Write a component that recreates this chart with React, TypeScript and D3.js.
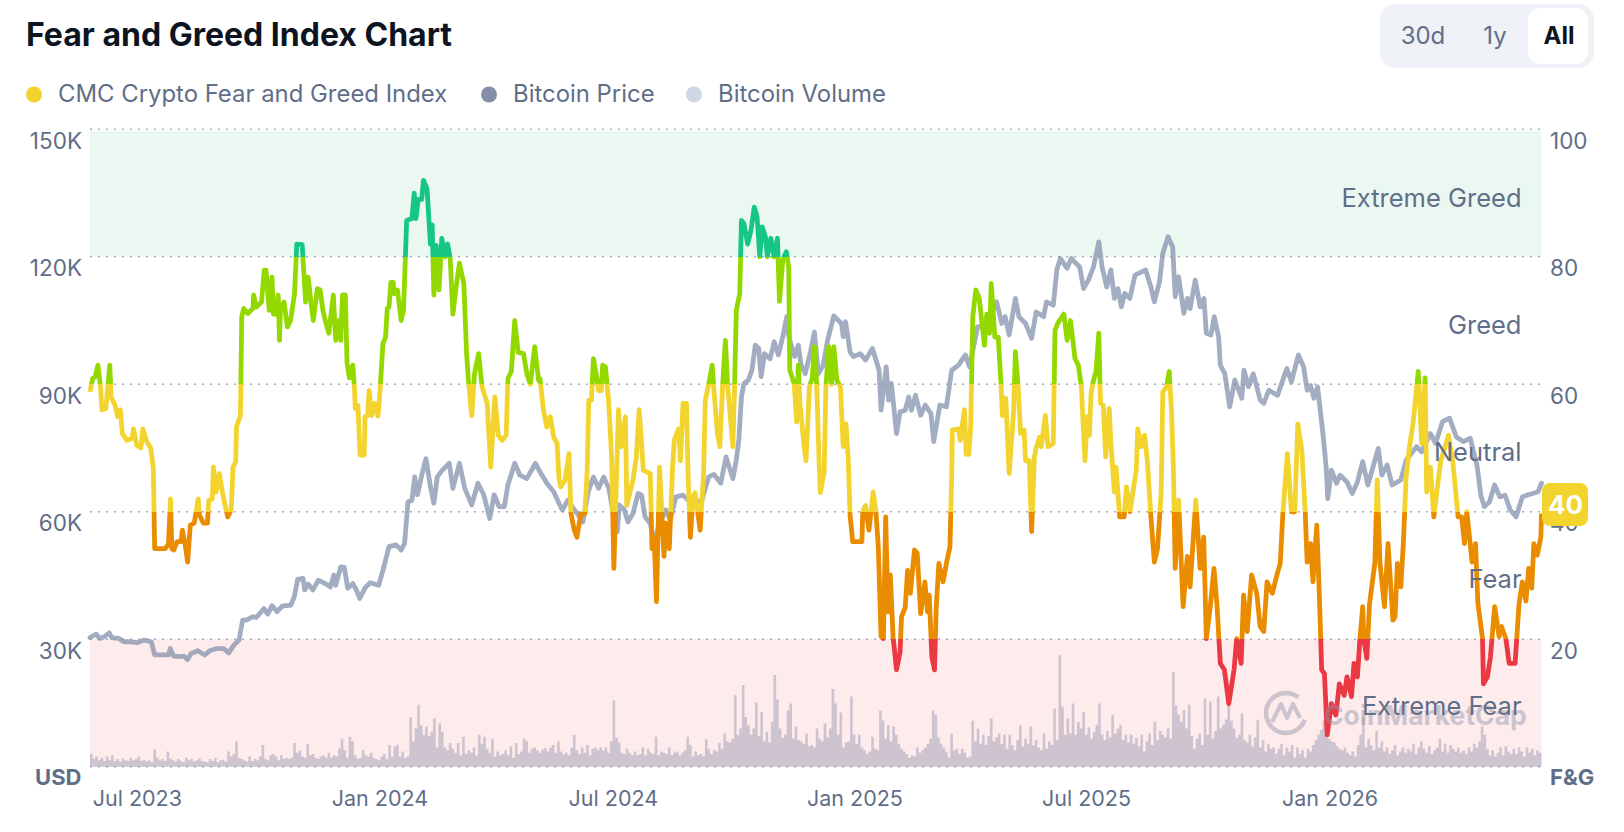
import React from "react";
import * as d3 from "d3";

// values, x is days from the first sample
const fgDays = [
  0, 2, 4, 6, 8, 9, 12, 15, 16, 19, 21, 23, 24.5, 28, 32, 33, 35.5, 38.6, 40, 43, 46, 48, 49, 53, 57, 59.5, 61, 62, 63.5, 66, 69, 70, 72, 74, 76, 79, 82, 83, 86, 89, 90, 92.7, 93.5, 95.5, 98, 100, 102.6, 104.4, 107, 108.4, 110.4,
  111, 114, 115, 116.5, 119.6, 123.5, 124, 126, 130, 132, 133.4, 135.8, 137.9, 139, 141, 142.6, 143.6, 144.4, 147, 149.6, 152, 155, 156.7, 160.8, 163.4, 165.3, 167.4, 169.2, 172.3, 174.4, 176.5, 178.3, 181, 184.4, 186.2, 188.8, 190, 191.4, 193.5, 194.8, 196.6, 199.2, 200.5, 201, 203, 204.7, 207.8, 208.4, 210.4, 211.5, 213.6, 215.7, 218.3, 220, 222, 224, 225.3, 226.6, 228, 229.8, 230.5, 233, 235.8, 237.6, 240, 244, 245.7, 247, 248.8, 251.4, 252.7, 255.4, 258, 259.3, 260.6, 262.4, 264.5, 266.6, 269.2, 271, 273, 275, 277.5, 280, 283.3, 285.4, 286.7, 289.3, 291.4, 294.5, 297.1, 301, 303.7, 306.8, 309.4, 312.3, 315.4, 316.7, 319.3, 321.9, 324.5, 328.5, 331, 333.7, 337, 340,
  341, 343.6, 346.2, 348.8, 351.4, 354, 355.4, 356.7, 360, 363, 364.5, 367, 369, 372, 375, 376.8, 378, 380, 381.5, 384, 385.4, 387.5, 388.5, 390.6, 393, 395.3, 397, 400.5, 402.4, 405.8, 406.8, 411.5, 414, 416.2, 418, 419.3, 424.6, 425.9, 427.5, 429.3, 431.6, 435, 436.3, 439, 441.5, 442.8, 446, 447.5, 449.4, 452, 453.3, 455, 457, 458.5, 462.4, 465, 466.3, 469, 471.5, 472.9, 475.5, 477.3, 479.4, 481.5, 483.3, 487.2, 488.5, 489.8, 492.4, 493.7, 495.6, 498.4, 500.8, 503.4, 505.5, 507.6, 509.4, 512, 513.3, 516, 518.5, 521, 522.5, 525, 527.7, 529.5, 530.3, 533.7, 535.5, 536.8, 538, 540.7, 542.6, 545.2, 547.3, 549, 550.7, 552.5, 553.5, 556.4, 557.7, 559.8, 562, 563.7, 566, 568.7, 570.8, 572.9, 574.7, 576, 578, 585, 585.6, 587.7, 590.3, 593.5, 595.6, 597.4, 599.5, 601.3, 603, 604.7, 606.5, 608.6, 611.2, 613.9, 615, 617.8, 619.6, 621.7, 624.8, 626.9, 629.5, 632.7, 634.7, 636, 638, 640, 641.3, 643.3, 646.5, 649, 651.7, 653, 653.5, 658.2, 659.5, 662.7, 664, 666, 667.4, 669, 671.3, 673.9, 677.8, 679.6, 681.7, 683, 685.7, 688.3, 690.4, 691.4, 694, 696.6, 700, 701.3, 703.4, 705.2, 707.9, 709, 711.8, 713.6, 715.7, 717, 719.6, 720.9, 724, 726, 730, 731.3, 734, 738, 740.5, 743, 746.5, 749,
  751.3, 754, 755.8, 757.4, 758.7, 760.5, 762.4, 764.5, 765.8, 767.9, 769.7, 772.4, 773.7, 776.3, 777.6, 780.3, 783.7, 785.5, 788.2, 790.8, 792.9, 794, 796.6, 799.2, 801.3, 804, 806.6, 809, 811.8, 813, 815.8, 817.9, 819.7, 821, 822.4, 825, 828.4, 831.6, 833.7, 838, 841.3, 844, 846, 848.7, 851.8, 854, 856.6, 859.7, 863, 867, 869, 872.4, 874.2, 877, 880.3, 884.2, 886.8, 889.5, 892, 896, 899.5, 902, 904, 907.4, 910.5, 913, 915.3, 918.4, 921, 922.4, 925, 926.8, 929.7, 931.6, 933.4, 935.5, 937.6, 940.8, 944.2, 946.8, 950.5, 952.6, 956, 957.9, 960.5, 962.4, 964.5, 965.3, 967.6, 969.7, 973.7, 975.5, 977.6, 981, 983.7, 987.4, 989, 990.8, 993.4, 995.3, 997.4, 1000, 1002.6, 1006.6, 1009.2, 1011.8, 1013, 1015.8, 1018.4, 1022.4, 1023.7, 1029.5, 1032.9, 1036.8, 1039.5, 1041.6, 1043.4, 1047.4, 1050, 1051.8, 1055.3, 1056, 1059, 1061.3, 1064.5, 1067.9, 1069.7, 1073, 1075.5, 1080, 1083, 1085.5, 1088.2, 1090.3, 1092.6, 1094.2, 1096.8, 1099.5, 1100,
];
const fgValues = [
  58.8, 60.9, 61.2, 63, 59.5, 56, 56.2, 63, 58, 56.7, 54.9, 56, 52.3, 51.2, 51.5, 53, 50.4, 50, 53, 51, 50, 46.8, 34.2, 34.2, 34.2, 35, 42, 34.2, 34, 35.3, 35.3, 37.1, 35, 32.1, 37.9, 38.2, 42, 39.5, 38.2, 38.2, 41.8, 42, 47, 43.1, 46, 43.4, 40.8, 39.2, 40.3, 47, 47.8,
  53.3, 55.1, 70.6, 71.9, 71.1, 71.9, 74, 72.1, 72.9, 77.9, 77.9, 71.6, 76.8, 71, 71, 74, 66.9, 72.1, 72.9, 69, 70, 74.2, 82, 81.9, 72.9, 76.8, 72.9, 70, 75, 74.8, 71.6, 70, 68, 74, 66.9, 70, 66.9, 74, 74, 63.3, 61, 63, 59, 56.2, 56.7, 48.9, 48.9, 54.9, 55.1, 59, 55.1, 57, 55, 59.6, 66.4, 67.4, 71.9, 72.1, 76, 76, 74.2, 74.8, 70, 71.6, 85.7, 86, 90, 86, 89, 89, 92, 90.7, 82, 85, 74, 81.8, 74.8, 82.9, 80, 82, 79.7, 71, 75.3, 79, 75.8, 64.8, 60.9, 55.1, 61.7, 64.8, 59.6, 57, 47, 58, 52, 51.2, 52, 60.9, 62, 70, 65, 64.8, 61.7, 60, 65.9, 60.6,
  60.9, 56, 53.3, 54.9, 51.7, 50.7, 45.2, 43.9, 45, 49.1, 39.7, 37.1, 36, 39.7, 39.7, 46.5, 57.5, 57.5, 64, 61.2, 59, 59, 63, 62.7, 57.5, 48.6, 31.1, 56, 50.2, 54.9, 41, 45, 48.6, 56, 50.7, 46.5, 46, 34.2, 36, 25.9, 47, 33, 38.2, 34.2, 47, 51.2, 53, 48, 57, 57, 45.5, 36, 42.3, 43, 37.1, 46, 57.5, 60.1, 63, 59, 52.3, 50.2, 59.6, 66.9, 59.6, 50.2, 60, 71.6, 74.2, 85.7, 85.2, 82, 84, 87.8, 86.3, 80, 84.7, 83, 80, 82.9, 80, 82.9, 73, 79.5, 80.8, 78.4, 62.2, 60.1, 54.1, 63, 57, 51.2, 48, 59.6, 60.9, 65.9, 60, 48, 43, 46.3, 59.6, 65.9, 60, 65.9, 60.6, 59.6, 50.2, 53.8, 48, 39.5, 35.3, 35.3, 40, 41, 37.1, 43.1, 40, 34.5, 20.4, 20.1, 39.2, 24.3, 30.1, 20.4, 15.2, 18, 23.5, 25, 30.8, 27.2, 34, 33.5, 24, 29, 24.3, 26.9, 17.2, 15.2, 25, 31.9, 29, 31.9, 34.5, 45.5, 52.8, 53, 51.2, 56, 49, 49, 53.3, 70.6, 74.8, 73.5, 66.1, 71, 68, 75.8, 67.4, 67.4, 60.1, 55.1, 57.8, 46, 56, 65.1, 59.6, 52.3, 52.8, 48, 48, 36.9, 48.6, 50, 51.7, 50.2, 55.1, 50.2, 50.7, 68.5, 69.8, 71, 66.9, 70, 64, 63,
  59.6, 48, 54.9, 52, 58.8, 60.6, 62, 68, 57, 56.7, 48.6, 56.2, 50.7, 43.1, 47, 39.2, 39.2, 43.9, 40, 43.7, 46.5, 53, 50.2, 52, 48, 39.2, 32.1, 34.2, 43.1, 58.8, 59.6, 62, 55.4, 47, 31.1, 41.8, 25.1, 33, 28.2, 41.8, 31.1, 36, 20.1, 24.6, 31.1, 25.6, 16.2, 15.2, 9.9, 15.2, 20.1, 16.2, 26.9, 21.2, 30.1, 27.2, 22, 21.2, 29, 27.2, 30.1, 31.9, 39.7, 49.1, 40, 40, 53.8, 49.6, 39.7, 32.1, 35, 29, 37.9, 27.2, 15.2, 14.6, 5, 9.9, 8.1, 13, 11.2, 14.1, 11, 16.2, 14.1, 20.1, 25.1, 20.1, 17, 25.6, 31.9, 45, 31.9, 25.1, 35, 23, 23.5, 31.9, 28.2, 35, 45.5, 50.2, 53.8, 62, 50.7, 61, 43.1, 47, 39.2, 46, 48, 52, 47.6, 39.2, 39.2, 35, 40, 32.1, 35, 25.6, 20.1, 13, 14.1, 17.2, 25.1, 20.4, 22, 20.1, 16.2, 16.2, 25.6, 29, 26, 31.1, 28, 35, 33.2, 36, 39.7,
];

const btcDays = [
  0, 4.7, 7.3, 11, 14.6, 16.4, 21.7, 25.6, 30.7, 36, 41, 46.5, 49, 54.3, 59.5, 60.8, 63.4, 68.7, 71.3, 73.9, 76.5, 81.7, 87, 90.9, 96, 101.3, 105.2, 109, 112.9, 115.7, 118.5, 123.5, 126, 131.8, 134.7, 137.9, 141.8, 145.7, 152.2, 154.8, 157.4, 161.4, 162.7, 165.3, 169, 173, 178.3, 182.2, 184.8, 186.2, 190, 192.7, 195.3, 199.2, 201.8, 204.4, 208.4, 212.3, 218.8, 222.7, 226.6, 231.9, 235.8, 238.4, 241, 244, 246.1, 248.2, 251.4, 254.6, 258, 260.6, 263.2, 267, 272.3, 275, 280, 284, 289.3, 294, 298.4, 302.9, 306.3, 310, 314, 316.7, 321.9, 325.8, 331, 337.6,
  341, 346.2, 351.4, 355.4, 358, 362, 373.6, 377.6, 381.5, 385.4, 389.3, 393.2, 397, 399.7, 401, 405, 407.6, 411.5, 415.4, 418, 420.6, 424.6, 428, 431, 436.3, 439.7, 444, 449.4, 453.3, 457.2, 463.7, 468.9, 472.9, 478, 482, 487.2, 489.8, 491.7, 493.7, 495.6, 499, 501.6, 504.2, 506.8, 508.6, 511.2, 515.4, 518.5, 521.7, 525, 528, 529.5, 534, 536.8, 538.9, 542, 546, 549, 552, 555.6, 559, 563.7, 569.5, 570.8, 572.6, 576, 578.6, 583.8, 587.7, 593, 598, 599.5, 603.4, 605.2, 607.3, 611.2, 613.9, 617.8, 620.4, 622.5, 625.6, 629.5, 633, 637.3, 639.4, 644, 649, 653, 658.2, 663.4, 666.6, 672.6, 680, 687, 691, 693.5, 696.6, 701.3, 704, 709, 713.6, 717, 722.7, 724.8, 730, 732.7, 735.3, 740.5, 743.6,
  750, 753, 756.6, 760.5, 764.5, 767, 770.5, 773.7, 776.3, 779, 781.6, 784.2, 788, 792, 800, 804, 806.6, 810.5, 813, 817, 820.5, 822.4, 825, 829, 831.6, 833.7, 837.6, 841.3, 844.2, 846, 849.5, 852, 855.3, 856.6, 860, 863.7, 867.6, 872.9, 874.5, 878, 881.6, 886.8, 889.5, 893.4, 900, 907, 910.5, 915.8, 919.7, 922.4, 925, 927.6, 930.3, 934.2, 936.8, 938, 940.8, 944.7, 947.4, 952.6, 956.6, 960.5, 964.5, 968.4, 976.3, 979, 983, 986.8, 993.4, 997.4, 1005.3, 1009.2, 1015.8, 1019.7, 1025, 1030.3, 1035.5, 1040.8, 1046, 1051.3, 1054, 1056.6, 1060.5, 1064.5, 1068.4, 1072.4, 1076.3, 1080.8, 1085.5, 1089, 1093.4, 1097.4, 1100,
];
const btcValues = [
  30.4, 31.2, 30.2, 30.6, 31.5, 30.4, 30.2, 29.4, 29.4, 29.2, 29.8, 29.4, 26.3, 26.3, 26.3, 27.8, 26, 25.9, 26, 25.2, 26.6, 27.3, 26.3, 27.3, 27.8, 27.8, 26.8, 28.6, 29.8, 34.5, 34.5, 35.3, 35.1, 37.2, 35.9, 37.9, 36.5, 37.8, 38, 40, 44.1, 44.3, 41.6, 43, 41.6, 43.9, 43.1, 42.3, 45.1, 42.7, 47, 46.9, 42, 43.1, 41.6, 39.6, 42, 43.3, 42.7, 47, 51.8, 52.2, 51, 52.5, 62.3, 62.7, 68.2, 64, 68.6, 72.5, 65.9, 62, 68.2, 69.8, 71.4, 65.5, 71.4, 65.5, 61.6, 66.7, 64, 58.4, 64, 61.2, 61.2, 66.3, 71.4, 68.6, 67.8, 71.4,
  69.4, 66.7, 64.7, 62, 60.4, 62.7, 57.6, 64.7, 68.2, 65.5, 68.2, 65.5, 58.8, 55.3, 61.6, 60.4, 57.6, 59.6, 64.3, 63.9, 58.8, 57.2, 52.5, 56.9, 60.4, 58, 63.5, 63.9, 62.7, 62, 62.7, 68.2, 68.8, 66.7, 72.9, 67.8, 72.2, 76.9, 87, 90.2, 91, 93.3, 99.2, 98.4, 91.8, 97.2, 96, 100, 96.9, 101.2, 105.9, 101.2, 96.5, 99.2, 94.5, 92.5, 97.6, 102.3, 92.5, 94.5, 100.4, 106.1, 104.3, 101.2, 104.7, 97.6, 96.5, 97.2, 95.7, 98.4, 93.3, 83.9, 94.1, 86.3, 90.2, 78.4, 83.5, 83.9, 87, 83.9, 87.4, 82.7, 85.1, 83.1, 76.5, 85.1, 84.7, 93.3, 94.5, 96.9, 94.1, 103.5, 104, 109.4, 104.3, 105.9, 101.6, 110.2, 105.9, 104.3, 100.8, 107, 105.9, 109.4, 108.6, 116.9, 119.6, 117.3, 119.6,
  117.6, 112.5, 114.5, 117.6, 123.5, 117.6, 112.9, 116.9, 110.2, 112.5, 108.2, 111.4, 110.2, 115.7, 116.9, 112.9, 109.4, 114.1, 120.8, 124.7, 122.3, 110.6, 115.3, 106.7, 110.2, 107.8, 114.5, 108.2, 110.2, 102, 101.6, 105.9, 101.2, 94.5, 92.5, 84.7, 91, 86.7, 93.3, 89.4, 92.5, 86.3, 85.5, 88.6, 87.4, 93.7, 90.6, 96.9, 94.1, 88.6, 89.7, 86.7, 89.4, 78.8, 70.6, 63.1, 69.8, 66.7, 68.6, 67, 64.3, 67, 71.8, 66.3, 74.9, 68.6, 71, 66.3, 67.5, 72.1, 75.3, 74.1, 78.4, 76.1, 81.2, 82, 77.6, 76.5, 77.3, 70.6, 63.9, 61.2, 62.3, 66.3, 63.5, 63.9, 60.4, 58.8, 63.5, 63.9, 64.3, 64.7, 66.7,
];

// one reading every 2 days, billions
const volStep = 2;
const volValues = [
  20, 12, 16, 10, 14, 9, 16, 11, 18, 9, 12, 8, 13, 10, 9, 14, 10, 12, 16, 9, 11, 8, 10, 7, 27,
  14, 10, 12, 9, 24, 13, 10, 8, 12, 9, 7, 14, 10, 12, 8, 10, 13, 9, 8, 7, 12, 9, 14, 7, 10,
  11, 8, 24, 16, 20, 40, 14, 12, 10, 8, 16, 9, 12, 10, 16, 34, 12, 10, 18, 20, 16, 10, 18, 12, 14,
  12, 14, 37, 22, 25, 16, 14, 36, 18, 20, 14, 12, 16, 18, 14, 22, 14, 18, 16, 28, 44, 26, 14, 47, 40,
  18, 12, 14, 26, 18, 16, 22, 14, 12, 10, 16, 20, 12, 34, 16, 32, 34, 16, 24, 14, 16, 78, 40, 60, 97,
  65, 50, 63, 48, 55, 76, 30, 68, 55, 30, 26, 37, 28, 22, 37, 18, 47, 20, 26, 22, 30, 18, 50, 36, 47,
  28, 22, 44, 16, 24, 18, 20, 26, 18, 32, 14, 37, 20, 24, 44, 40, 22, 28, 30, 26, 22, 27, 29, 24, 30,
  34, 22, 40, 24, 20, 22, 18, 30, 50, 26, 20, 30, 22, 34, 18, 28, 30, 26, 30, 25, 30, 22, 40, 104, 46,
  38, 22, 20, 28, 22, 18, 24, 18, 20, 30, 18, 28, 22, 20, 47, 18, 24, 22, 20, 30, 18, 22, 24, 18, 22,
  26, 47, 34, 16, 24, 18, 20, 16, 43, 28, 20, 26, 24, 37, 28, 52, 40, 38, 44, 112, 50, 60, 128, 78, 65,
  50, 60, 101, 48, 86, 40, 55, 38, 70, 144, 106, 60, 45, 50, 89, 99, 44, 63, 42, 40, 36, 52, 32, 34, 30,
  60, 44, 40, 68, 46, 60, 122, 99, 50, 85, 30, 38, 40, 110, 50, 36, 50, 30, 26, 20, 24, 47, 28, 26, 88,
  73, 44, 65, 40, 63, 50, 36, 28, 24, 20, 14, 18, 16, 30, 22, 26, 30, 36, 44, 88, 81, 46, 36, 30, 24,
  14, 52, 26, 28, 20, 28, 22, 14, 16, 72, 40, 60, 36, 50, 34, 48, 76, 40, 46, 52, 36, 50, 28, 50, 34,
  26, 42, 65, 32, 44, 36, 63, 34, 42, 30, 26, 52, 28, 40, 34, 91, 42, 175, 94, 50, 76, 52, 99, 50, 70,
  60, 86, 50, 62, 44, 55, 66, 99, 50, 42, 56, 46, 81, 52, 60, 66, 42, 50, 38, 50, 36, 45, 32, 50, 24,
  40, 52, 34, 70, 42, 56, 50, 46, 60, 44, 148, 96, 82, 70, 89, 60, 97, 48, 28, 44, 52, 34, 107, 50, 102,
  44, 56, 110, 60, 66, 74, 97, 72, 60, 45, 50, 84, 42, 38, 50, 32, 46, 73, 30, 42, 24, 36, 28, 30, 20,
  28, 36, 18, 30, 24, 34, 14, 30, 20, 26, 14, 28, 24, 34, 42, 50, 58, 73, 56, 44, 40, 38, 32, 28, 26,
  30, 22, 18, 24, 16, 34, 50, 78, 30, 44, 34, 26, 56, 30, 40, 24, 30, 20, 26, 34, 18, 24, 30, 22, 28,
  24, 36, 20, 30, 40, 28, 22, 32, 20, 26, 30, 44, 24, 36, 22, 34, 28, 24, 30, 22, 26, 20, 30, 24, 36,
  30, 40, 63, 50, 28, 18, 26, 16, 22, 30, 18, 32, 24, 20, 28, 20, 30, 24, 16, 30, 22, 28, 18, 26, 22, 28,
];

const usdTicks = [150, 120, 90, 60, 30];
const fgTicks = [100, 80, 60, 40, 20];
const dateTicks = ["Jul 2023", "Jan 2024", "Jul 2024", "Jan 2025", "Jul 2025", "Jan 2026"];
const dateTickDays = [35.9, 219.7, 396.6, 579.7, 755.2, 939.8];
const zoneNames = ["Extreme Greed", "Greed", "Neutral", "Fear", "Extreme Fear"];
const zoneLabelAt = [87.8, 67.9, 47.9, 28.1, 8.1];
const zoneEdges = [100, 80, 60, 40, 20, 0];
const zoneColors = ["#16C784", "#93D900", "#F3D42F", "#EA8C00", "#EA3943"];
const legendNames = ["CMC Crypto Fear and Greed Index", "Bitcoin Price", "Bitcoin Volume"];
const legendColors = ["#F3D42F", "#858FA8", "#CFD6E4"];
const rangeNames = ["30d", "1y", "All"];

const FONT = "Inter, sans-serif";
const GREY = "#616E88";

const x = d3.scaleLinear().domain([0, 1100]).range([90, 1541.5]);
const yFg = d3.scaleLinear().domain([0, 100]).range([766.7, 129.3]);
const yUsd = d3.scaleLinear().domain([0, 150]).range([766.7, 129.3]);
const yVol = d3.scaleLinear().domain([0, 1000]).range([766.7, 129.3]);

const App = () => {
  const fgLine = d3
    .line<number>()
    .x((d) => x(d))
    .y((_, i) => yFg(fgValues[i]));
  const btcLine = d3
    .line<number>()
    .x((d) => x(d))
    .y((_, i) => yUsd(btcValues[i]));
  const volArea = d3
    .area<number>()
    .x((_, i) => x(i * volStep))
    .y0(yVol(0))
    .y1((d) => yVol(d))
    .curve(d3.curveStepAfter);

  const legendX = [34, 489, 694];
  const latest = fgValues[fgValues.length - 1];

  return (
    <svg
      width={1624}
      height={832}
      viewBox="0 0 1624 832"
      style={{ position: "absolute", left: 0, top: 0, background: "#fff" }}
      fontFamily={FONT}
    >
      <defs>
        <linearGradient
          id="fgZones"
          gradientUnits="userSpaceOnUse"
          x1={0}
          x2={0}
          y1={yFg(100)}
          y2={yFg(0)}
        >
          {zoneColors.map((c, i) => (
            <React.Fragment key={c}>
              <stop offset={(100 - zoneEdges[i]) / 100} stopColor={c} />
              <stop offset={(100 - zoneEdges[i + 1]) / 100} stopColor={c} />
            </React.Fragment>
          ))}
        </linearGradient>
      </defs>

      <text x={26} y={46} fontSize={32} fontWeight={700} fill="#0D1421">
        Fear and Greed Index Chart
      </text>

      {legendNames.map((name, i) => (
        <g key={name}>
          <circle cx={legendX[i]} cy={94.5} r={8} fill={legendColors[i]} />
          <text x={legendX[i] + 24} y={102} fontSize={23.9} fill={GREY}>
            {name}
          </text>
        </g>
      ))}

      <rect x={1380} y={4} width={214} height={64} rx={16} fill="#EEF1F5" />
      <rect x={1528} y={8} width={60} height={56} rx={12} fill="#fff" />
      {rangeNames.map((name, i) => (
        <text
          key={name}
          x={[1423, 1495, 1559][i]}
          y={44}
          fontSize={i === 2 ? 24 : 24}
          fontWeight={i === 2 ? 700 : 400}
          textAnchor="middle"
          fill={i === 2 ? "#0D1421" : GREY}
        >
          {name}
        </text>
      ))}

      <rect
        x={x(0)}
        y={yFg(100) + 1.5}
        width={x(1100) - x(0)}
        height={yFg(80) - yFg(100) - 1.5}
        fill="#EBF8F2"
      />
      <rect
        x={x(0)}
        y={yFg(20)}
        width={x(1100) - x(0)}
        height={yFg(0) - yFg(20)}
        fill="#FEEBEC"
      />

      {zoneEdges.map((v) => (
        <line
          key={v}
          x1={x(0)}
          x2={x(1100)}
          y1={yFg(v)}
          y2={yFg(v)}
          stroke="#A6ABB5"
          strokeWidth={1.6}
          strokeDasharray="2 6"
        />
      ))}

      <path d={volArea(volValues) || ""} fill="#888AA7" fillOpacity={0.4} />
      <path
        d={btcLine(btcDays) || ""}
        fill="none"
        stroke="#8492AC"
        strokeOpacity={0.75}
        strokeWidth={4.8}
        strokeLinejoin="round"
        strokeLinecap="round"
      />
      <path
        d={fgLine(fgDays) || ""}
        fill="none"
        stroke="url(#fgZones)"
        strokeWidth={4.8}
        strokeLinejoin="round"
      />

      <g opacity={0.45} fill="none" stroke="#8F93A8">
        <circle cx={1286} cy={713} r={20} strokeWidth={4.5} strokeDasharray="100 26" transform="rotate(20 1286 713)" />
        <path d="M1272 722 L1281 704 L1287 718 L1293 704 L1300 718" strokeWidth={4} strokeLinejoin="round" />
      </g>
      <text x={1324} y={725} fontSize={26.5} fontWeight={700} fill="#8F93A8" opacity={0.45}>
        CoinMarketCap
      </text>

      {zoneNames.map((name, i) => (
        <text key={name} x={1521.5} y={yFg(zoneLabelAt[i])} fontSize={25.5} textAnchor="end" fill={GREY}>
          {name}
        </text>
      ))}

      {usdTicks.map((v) => (
        <text key={v} x={82} y={yUsd(v) + 19.7} fontSize={22.5} textAnchor="end" fill={GREY}>
          {v}K
        </text>
      ))}
      {fgTicks.map((v) => (
        <text key={v} x={1550} y={yFg(v) + 19.7} fontSize={22.5} fill={GREY}>
          {v}
        </text>
      ))}
      <text x={81.5} y={785} fontSize={22} fontWeight={700} textAnchor="end" fill={GREY}>
        USD
      </text>
      <text x={1550} y={785} fontSize={22} fontWeight={700} fill={GREY}>
        F&amp;G
      </text>

      {dateTicks.map((label, i) => (
        <text key={label} x={x(dateTickDays[i])} y={806} fontSize={21.5} textAnchor="middle" fill={GREY}>
          {label}
        </text>
      ))}

      <rect x={1542} y={483} width={46} height={43} rx={8} fill="#F3D42F" />
      <text x={1565.5} y={513.5} fontSize={26} fontWeight={700} textAnchor="middle" fill="#fff">
        {Math.round(latest)}
      </text>
    </svg>
  );
};

export default App;
